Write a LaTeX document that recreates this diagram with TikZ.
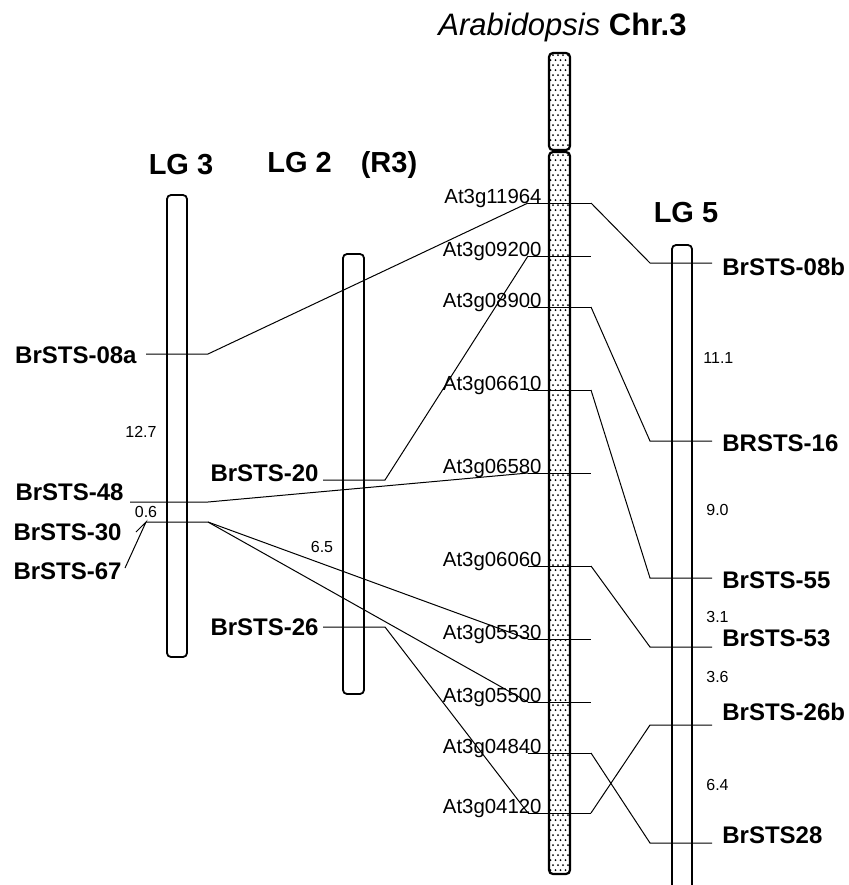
\documentclass[tikz,border=0pt]{standalone}
\usepackage{fontspec}
\setmainfont{Liberation Sans}

\begin{document}
\begin{tikzpicture}[
  x=0.5pt, y=-0.5pt,
  bar/.style={draw, line width=0.9pt, rounded corners=2pt},
  chrom/.style={bar, line width=1.1pt},
  link/.style={line width=0.5pt},
  atlab/.style={anchor=base east, inner sep=0pt, font=\fontsize{10.2}{12}\selectfont},
  mklab/.style={inner sep=0pt, font=\fontsize{12}{14}\selectfont\bfseries},
  dist/.style={inner sep=0pt, font=\fontsize{8}{10}\selectfont},
  lgtitle/.style={inner sep=0pt, font=\fontsize{14.5}{17}\selectfont\bfseries}
]
\useasboundingbox (0,0) rectangle (849,885);

% titles
\node[inner sep=0pt, anchor=west, font=\fontsize{15.5}{18}\selectfont] (title) at (438,27)
  {\textit{Arabidopsis} \textbf{Chr.3}};
\node[lgtitle] (t3) at (181,165) {LG 3};
\node[lgtitle, anchor=west] (t2) at (267,165) {LG 2\hspace{1em}(R3)};
\node[lgtitle] (t5) at (686,213) {LG 5};

% linkage groups
\draw[bar] (167,195) rectangle (187,657);
\draw[bar] (343,254) rectangle (364,694);
\draw[bar] (672,885) -- (672,245) -- (692,245) -- (692,885);

% chromosome, dotted fill
\begin{scope}
  \clip (549,53) rectangle (570,150) (549,152) rectangle (570,874);
  \foreach \r in {0,...,165}
    \foreach \c in {0,...,4}
      \fill ({548+\c*5+mod(\r,2)*2.5}, {55+\r*5}) circle[radius=1];
\end{scope}
\draw[chrom] (549,53) rectangle (570,150);
\draw[chrom] (549,152) rectangle (570,874);

% Arabidopsis loci
\foreach \n/\y/\t in {a/203/At3g11964, b/256/At3g09200, c/307/At3g08900,
    d/390/At3g06610, e/473/At3g06580, f/566/At3g06060, g/639/At3g05530,
    h/702/At3g05500, i/753/At3g04840, j/813/At3g04120} {
  \coordinate (\n-l) at (528,\y);
  \coordinate (\n-r) at (591,\y);
  \draw[link] (\n-l) -- (\n-r);
  \node[atlab] (\n-t) at (542,\y) {\t};
}

% LG 3
\node[mklab, anchor=east] (k08a) at (137,355) {BrSTS-08a};
\node[mklab, anchor=east] (k48) at (124,492) {BrSTS-48};
\node[mklab, anchor=east] (k30) at (122,532) {BrSTS-30};
\node[mklab, anchor=east] (k67) at (122,571) {BrSTS-67};
\coordinate (s08a) at (146,354);
\coordinate (s48) at (130,502);
\coordinate (s30) at (146,522);
\coordinate (s30t) at (136,532);
\coordinate (s67) at (125,568);
\draw[link] (s08a) -- (208,354) -- (a-l);
\draw[link] (s48) -- (208,502) -- (e-l);
\draw[link] (s30) -- (208,522) -- (g-l);
\draw[link] (208,522) -- (h-l);
\draw[link] (s30t) -- (s30) -- (s67);
\node[dist] (d127) at (141,432) {12.7};
\node[dist] (d06) at (146,512) {0.6};

% LG 2
\node[mklab, anchor=east] (k20) at (319,473) {BrSTS-20};
\node[mklab, anchor=east] (k26) at (319,627) {BrSTS-26};
\coordinate (s20) at (323,480);
\coordinate (s26) at (323,627);
\draw[link] (s20) -- (385,480) -- (b-l);
\draw[link] (s26) -- (385,627) -- (j-l);
\node[dist] (d65) at (322,547) {6.5};

% LG 5
\foreach \n/\y/\ly/\t in {a/263/267/BrSTS-08b, c/441/443/BRSTS-16, d/578/580/BrSTS-55,
    f/647/638/BrSTS-53, j/725/712/BrSTS-26b, i/843/835/BrSTS28} {
  \coordinate (e\n) at (712,\y);
  \draw[link] (\n-r) -- (650,\y) -- (e\n);
  \node[mklab, anchor=west] (k\n) at (722,\ly) {\t};
}
\node[dist, anchor=west] (d111) at (703,358) {11.1};
\node[dist, anchor=west] (d90) at (706,510) {9.0};
\node[dist, anchor=west] (d31) at (706,617) {3.1};
\node[dist, anchor=west] (d36) at (706,677) {3.6};
\node[dist, anchor=west] (d64) at (706,785) {6.4};
\end{tikzpicture}
\end{document}
